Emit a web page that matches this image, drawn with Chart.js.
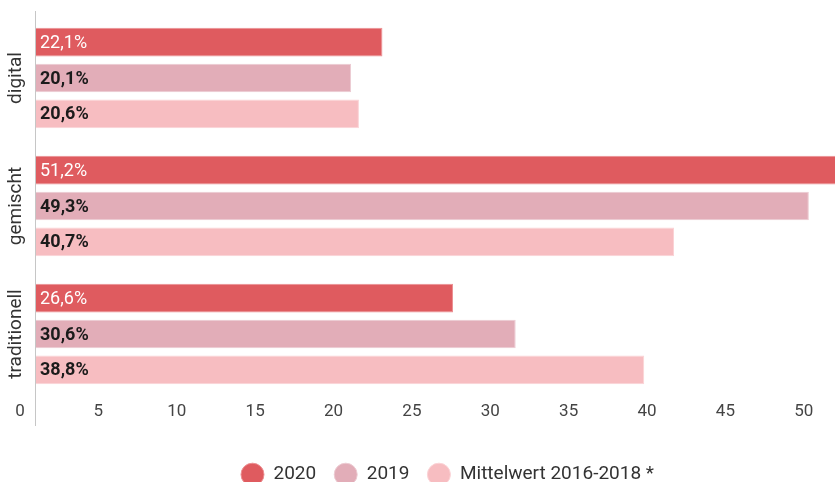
<!DOCTYPE html>
<html>
<head>
<meta charset="utf-8">
<script src="https://cdn.jsdelivr.net/npm/chart.js@4"></script>
<style>
  body { margin: 0; background: #fff; }
  .wrap { width: 835px; height: 482px; overflow: hidden; }
</style>
</head>
<body>
<div class="wrap"><canvas id="grafico" width="859" height="494"></canvas></div>
<script>
const categories = ['digital', 'gemischt', 'traditionell'];
const werte2020 = [22.1, 51.2, 26.6];
const werte2019 = [20.1, 49.3, 30.6];
const werteMittel = [20.6, 40.7, 38.8];
const serienNamen = ['2020', '2019', 'Mittelwert 2016-2018 *'];
const xTicks = [0, 5, 10, 15, 20, 25, 30, 35, 40, 45, 50];

const farben = ['#df5b5f', '#e2adb8', '#f7bdc1'];
const rahmen = ['#ec8f92', '#eccbd2', '#fbd3d6'];

Chart.defaults.font.family = 'Roboto, sans-serif';

const fmt = (v) => v.toFixed(1).replace('.', ',') + '%';

// Werte in die Balken schreiben
const balkenText = {
  id: 'balkenText',
  afterDatasetsDraw(chart) {
    const ctx = chart.ctx;
    chart.data.datasets.forEach((ds, i) => {
      const meta = chart.getDatasetMeta(i);
      meta.data.forEach((bar, j) => {
        ctx.save();
        ctx.font = (i === 0 ? '400' : '700') + ' 18px Roboto';
        ctx.fillStyle = i === 0 ? '#ffffff' : '#1b1b1b';
        ctx.textBaseline = 'middle';
        ctx.fillText(fmt(ds.data[j]), bar.base + 4, bar.y + 1);
        ctx.restore();
      });
    });
  }
};

// Achsenlinie und gedrehte Kategorien
const achse = {
  id: 'achse',
  beforeDatasetsDraw(chart) {
    const { ctx, chartArea, scales } = chart;
    const x0 = scales.x.getPixelForValue(0) - 0.5;
    ctx.save();
    ctx.strokeStyle = '#c6c6c6';
    ctx.lineWidth = 1;
    ctx.beginPath();
    ctx.moveTo(x0, chartArea.top - 3);
    ctx.lineTo(x0, chartArea.bottom + 28);
    ctx.stroke();
    ctx.restore();
  },
  afterDraw(chart) {
    const { ctx, scales } = chart;
    const y = scales.y;
    const cx = (y.left + y.right) / 2 - 2;
    ctx.save();
    ctx.font = '19px Roboto';
    ctx.fillStyle = '#333333';
    ctx.textAlign = 'center';
    ctx.textBaseline = 'middle';
    y.getLabels().forEach((lab, i) => {
      ctx.save();
      ctx.translate(cx, y.getPixelForTick(i));
      ctx.rotate(-Math.PI / 2);
      ctx.fillText(lab, 0, 0);
      ctx.restore();
    });
    ctx.restore();
  }
};

const reihen = [werte2020, werte2019, werteMittel];

new Chart(document.getElementById('grafico'), {
  type: 'bar',
  data: {
    labels: categories,
    datasets: reihen.map((d, i) => ({
      label: serienNamen[i],
      data: d,
      backgroundColor: farben[i],
      borderColor: rahmen[i],
      borderWidth: 1,
      categoryPercentage: 0.84,
      barPercentage: 0.8
    }))
  },
  options: {
    indexAxis: 'y',
    responsive: false,
    animation: false,
    layout: { padding: { top: 14, left: 0, right: 0, bottom: 0 } },
    scales: {
      x: {
        min: 0,
        max: 52.5,
        afterBuildTicks: (s) => { s.ticks = xTicks.map((v) => ({ value: v })); },
        afterFit: (s) => { s.height = 49; },
        grid: { display: false, drawTicks: false },
        border: { display: false },
        ticks: {
          stepSize: 5,
          includeBounds: false,
          autoSkip: false,
          maxRotation: 0,
          labelOffset: -16,
          padding: 4,
          color: '#444444',
          font: { size: 17 }
        }
      },
      y: {
        afterFit: (s) => { s.width = 36; },
        grid: { display: false },
        border: { display: false },
        ticks: { display: false }
      }
    },
    plugins: {
      tooltip: { enabled: false },
      legend: {
        position: 'bottom',
        fullSize: false,
        labels: {
          usePointStyle: true,
          pointStyle: 'circle',
          boxHeight: 16,
          boxWidth: 16,
          pointStyleWidth: 23,
          padding: 18,
          color: '#333333',
          font: { size: 19 }
        }
      }
    }
  },
  plugins: [balkenText, achse]
});
</script>
</body>
</html>
